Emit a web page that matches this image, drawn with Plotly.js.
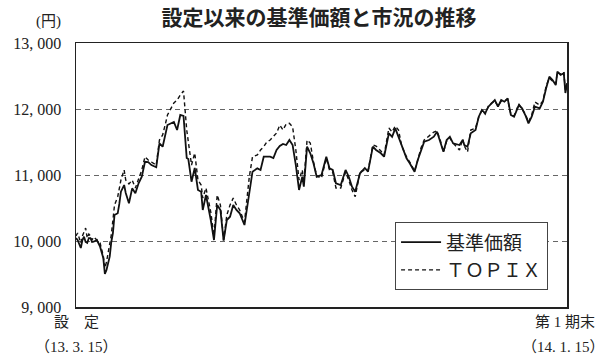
<!DOCTYPE html>
<html><head><meta charset="utf-8">
<script src="https://cdn.plot.ly/plotly-3.0.1.min.js"></script>
<style>html,body{margin:0;padding:0;background:#fff}#chart{width:607px;height:362px}</style>
</head><body><div id="chart"></div>
<script>
// days since 設定 (2013-03-15)
var days = [0,1,2,3,4,5,6,7,8,9,10,11,13,15,17,18,19,21,22,23,24,26,27,28,30,31,33,35,37,39,41,43,45,47,50,52,54,56,57,61,63,65,67,69,70,72,74,76,78,79,81,84,86,88,90,92,94,96,98,100,102,105,108,110,113,115,117,119,121,123,125,127,129,131,133,135,137,139,141,142,144,146,148,150,153,156,158,160,162,165,168,170,172,174,177,180,182,185,187,190,192,195,197,199,201,203,206,208,211,213,215,217,220,223,225,227,229,231,233,235,239,241,242,244,246,249,251,253,255,257,259,261,263,265,267,269,271,273,276,278,280,282,284,286,289,291,293,295,297,299,300,302,304,305,306];
var nav = [10045,10015,9955,9894,10015,10065,9985,9970,10045,10045,9985,9989,10015,9914,9742,9500,9561,9762,9985,10121,10394,10420,10561,10747,10848,10727,10571,10798,10723,10874,10974,11201,11197,11151,11117,11480,11429,11682,11757,11803,11682,11909,11894,11257,11242,10898,11106,10773,10747,10470,10697,10318,10015,10545,10470,10005,10318,10368,10545,10470,10420,10242,10773,11050,11101,11076,11277,11277,11277,11257,11379,11439,11470,11454,11530,11454,11151,10773,10974,10823,11429,11329,11177,10974,11000,11277,11101,11076,10874,10848,11076,10974,10823,10747,11026,11106,11050,11429,11379,11329,11277,11632,11580,11707,11580,11429,11253,11177,11050,11227,11379,11504,11530,11580,11656,11504,11353,11530,11580,11480,11454,11530,11454,11429,11632,11682,11883,11985,11935,12035,12086,12136,12035,12136,12110,12162,11909,11883,12060,12010,11909,11783,11883,12035,12010,12110,12313,12489,12439,12363,12565,12515,12541,12242,12379];
var topix = [10076,10121,10045,9970,10076,10136,10197,10045,10106,10076,10015,10061,10015,9970,9773,9591,9682,9924,10091,10318,10545,10671,10803,10924,11076,10924,10864,10924,10803,10954,11076,11277,11227,11197,11151,11530,11606,11803,11909,12091,12136,12212,12273,11682,11485,11151,11333,10924,10848,10651,10803,10439,10076,10697,10545,10015,10394,10545,10651,10545,10470,10288,10970,11277,11303,11379,11429,11504,11530,11580,11636,11757,11682,11773,11783,11727,11379,10924,11076,10894,11530,11485,11197,10985,10954,11257,11076,11045,10803,10803,11045,10924,10773,10671,11045,11076,11061,11454,11439,11364,11303,11712,11651,11742,11682,11439,11273,11197,11061,11227,11409,11530,11591,11651,11667,11530,11348,11515,11560,11485,11379,11545,11439,11348,11682,11712,11879,11985,11924,12045,12091,12121,12045,12121,12121,12151,11924,11894,12076,12000,11924,11803,11909,12106,12060,12121,12348,12469,12424,12379,12561,12530,12561,12288,12439];
var yTicks = [9000,10000,11000,12000,13000];
var yTickText = ['9, 000','10, 000','11, 000','12, 000','13, 000'];
var startLabel = ['設　定','（13. 3. 15）'];
var endLabel = ['第 1 期末','（14. 1. 15）'];
var seriesNames = ['基準価額','ＴＯＰＩＸ'];

var serif = '"Liberation Serif","DejaVu Serif","Noto Sans CJK JP",serif';
var jp = '"Liberation Serif","Noto Sans CJK JP",serif';
var x0 = days[0], x1 = days[days.length-1];

var traces = [
  {x: days, y: nav, name: seriesNames[0], type:'scatter', mode:'lines',
   line:{color:'#111', width:1.8}},
  {x: days, y: topix, name: seriesNames[1], type:'scatter', mode:'lines',
   line:{color:'#111', width:1.4, dash:'4px,3px'}}
];

function lab(t, x, y, shift){
  return {text:t, xref:'x', yref:'paper', x:x, y:y, xanchor:'center', yanchor:'middle', xshift:shift||0, showarrow:false, font:{family:jp, size:15, color:'#222'}};
}
var ann = [
  {text:'(円)', xref:'paper', yref:'paper', x:-0.056, y:1.083, xanchor:'center', yanchor:'middle', showarrow:false, font:{family:jp, size:15, color:'#222'}},
  lab(startLabel[0], x0, -0.057), lab(startLabel[1], x0, -0.152),
  lab(endLabel[0], x1, -0.057, -2), lab(endLabel[1], x1, -0.152, -4)
];

var layout = {
  width:607, height:362,
  margin:{l:76, r:40, t:43, b:55, pad:0},
  paper_bgcolor:'#fff', plot_bgcolor:'#fff',
  title:{text:'<b>設定以来の基準価額と市況の推移</b>', x:0.495, xref:'paper', y:0.95, yref:'container', yanchor:'middle',
         font:{family:'"Noto Sans CJK JP",sans-serif', size:21, color:'#222'}},
  xaxis:{range:[x0,x1], showticklabels:false, showgrid:false, zeroline:false, ticks:'',
         showline:true, mirror:true, linecolor:'#222', linewidth:1.5},
  yaxis:{range:[9000,13000], tickvals:yTicks, ticktext:yTickText, showgrid:true, gridcolor:'#666', griddash:'5px,4px', gridwidth:1,
         zeroline:false, ticks:'', showline:true, mirror:true, linecolor:'#222', linewidth:1.5,
         tickfont:{family:serif, size:16, color:'#222'}, ticklabelstandoff:10},
  showlegend:true,
  legend:{x:0.961, y:0.064, xanchor:'right', yanchor:'bottom', bgcolor:'#fff', bordercolor:'#444', borderwidth:1.2,
          font:{family:jp, size:19, color:'#222'}, tracegroupgap:0, itemwidth:40},
  annotations:ann
};
Plotly.newPlot('chart', traces, layout, {staticPlot:true});
</script></body></html>
